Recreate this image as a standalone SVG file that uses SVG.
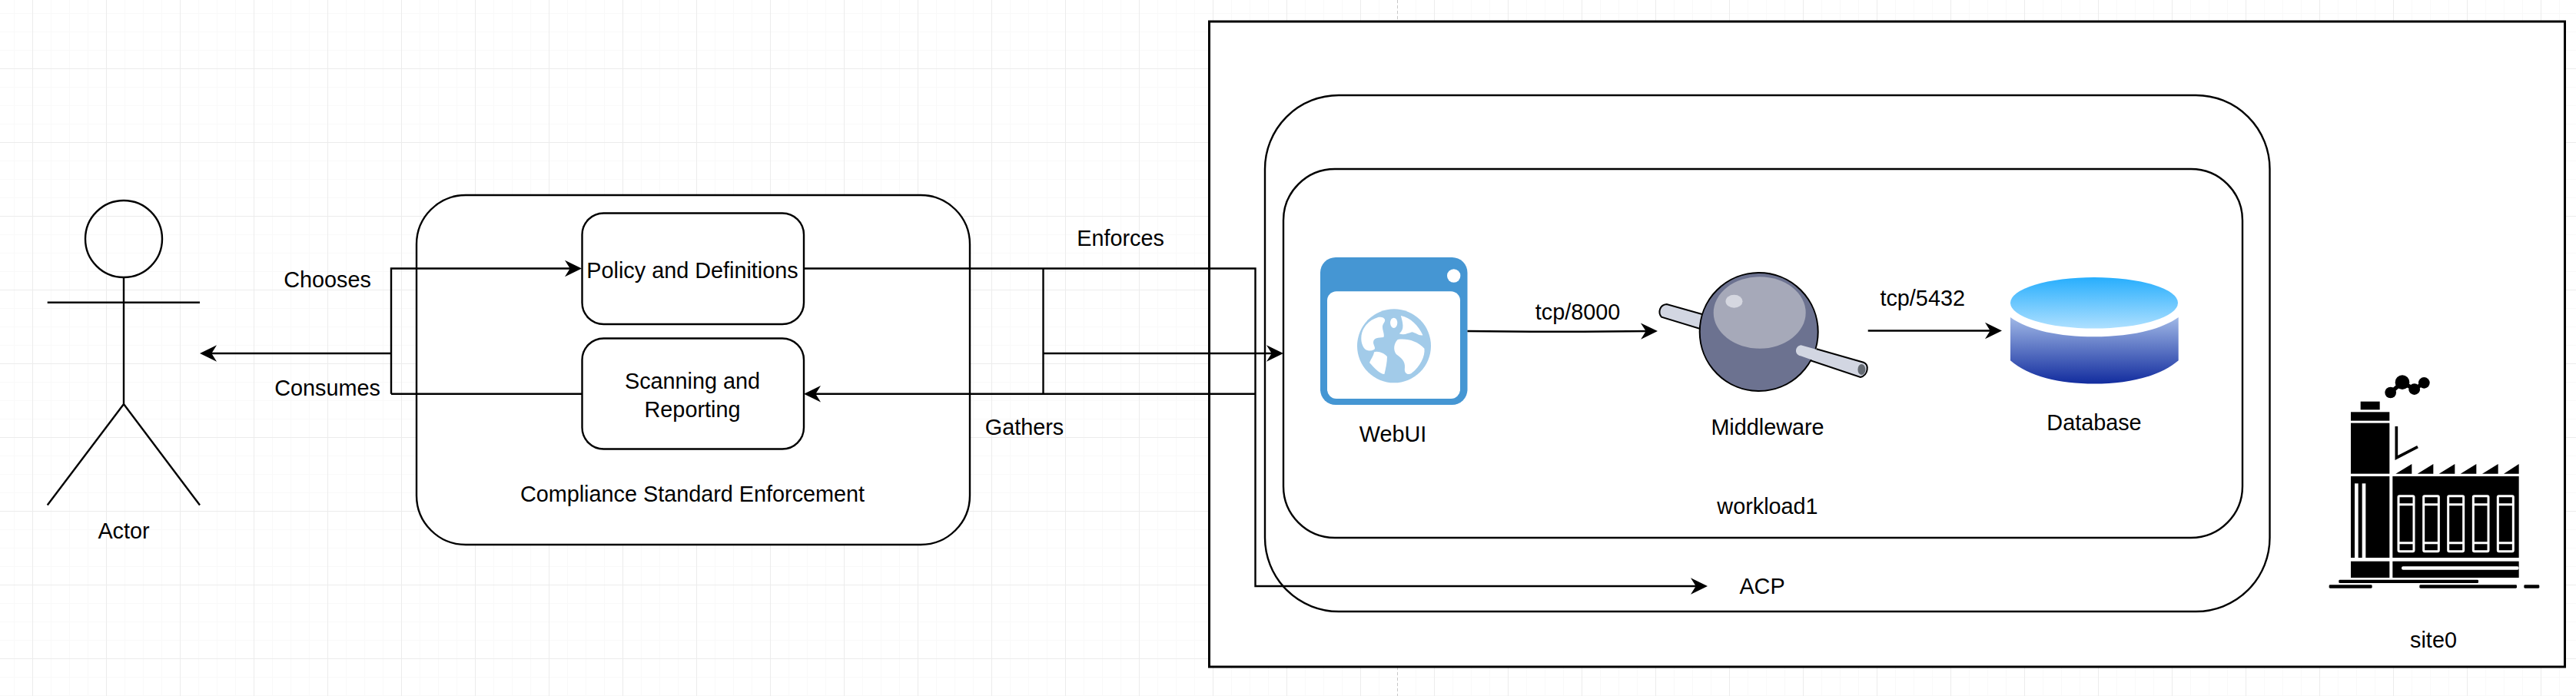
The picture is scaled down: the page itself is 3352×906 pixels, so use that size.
<svg xmlns="http://www.w3.org/2000/svg" width="3352" height="906" viewBox="0 0 3352 906">
<style>
text{font-family:"Liberation Sans",Arial,sans-serif;font-size:28.8px;fill:#000;text-anchor:middle}
.s{fill:none;stroke:#000;stroke-width:2.4}
.b{fill:#fff;stroke:#000;stroke-width:2.4}
.c{fill:none;stroke:#000;stroke-width:2.4;stroke-linejoin:miter}
.a{marker-end:url(#arrow)}
.w{fill:#fff}
.fw{fill:none;stroke:#fff;stroke-width:9}
</style>
<defs>
<pattern id="grid" patternUnits="userSpaceOnUse" x="42" y="89" width="96" height="96">
<path d="M24.5 0V96M48.5 0V96M72.5 0V96M0 24.5H96M0 48.5H96M0 72.5H96" stroke="#f9f9f9" stroke-width="1" fill="none"/>
<path d="M.5 0V96M0 .5H96" stroke="#ececec" stroke-width="1" fill="none"/>
</pattern>
<marker id="arrow" markerUnits="userSpaceOnUse" markerWidth="24" markerHeight="24" viewBox="-1 -12 24 24" refX="14" refY="0" orient="auto">
<path d="M0,-10.7L22,0L0,10.7L6.7,0Z" fill="#000"/>
</marker>
<linearGradient id="dbTop" x1="0" y1="0" x2="0" y2="1"><stop offset="0" stop-color="#27AEFD"/><stop offset="1" stop-color="#AEE0FF"/></linearGradient>
<linearGradient id="dbBody" x1="0" y1="0" x2="0" y2="1"><stop offset="0" stop-color="#A0B8E6"/><stop offset="1" stop-color="#122C9E"/></linearGradient>
</defs>
<rect id="background" width="3352" height="906" fill="#fff"/>
<rect id="gridlines" width="3352" height="906" fill="url(#grid)"/>
<path id="page-break" d="M1818.5 0V906" stroke="#c8c8c8" stroke-width="1" stroke-dasharray="4 3" fill="none"/>

<g id="site0">
<rect class="b" x="1573.5" y="28" width="1764" height="840" style="stroke-width:3"/>
<g transform="translate(2980,460) scale(.33333)">
<circle cx="392" cy="153" r="22"/><circle cx="438" cy="113" r="28"/><circle cx="485" cy="140" r="22"/><circle cx="523" cy="115" r="22"/>
<path d="M392 153L438 113L485 140L523 115" fill="none" stroke="#000" stroke-width="16"/>
<rect x="275" y="188" width="75" height="32"/>
<rect x="237" y="229" width="151" height="34"/>
<rect x="237" y="272" width="151" height="198"/>
<rect x="237" y="480" width="151" height="318"/>
<rect x="237" y="812" width="151" height="64"/>
<rect class="w" x="252" y="508" width="14" height="297"/>
<rect class="w" x="281" y="508" width="14" height="297"/>
<rect x="400" y="480" width="493" height="318"/>
<rect x="400" y="812" width="493" height="64"/>
<rect class="w" x="435" y="832" width="458" height="13" rx="6"/>
<path d="M415 285V408L498 365" fill="none" stroke="#000" stroke-width="11"/>
<path d="M412 470L475 432V470ZM497 470L559 432V470ZM581 470L643 432V470ZM665 470L727 432V470ZM750 470L812 432V470ZM834 470L893 432V470Z"/>
<g class="fw">
<rect x="423" y="557" width="60" height="216" rx="4"/><path d="M423 590H483M423 740H483"/>
<rect x="521" y="557" width="59" height="216" rx="4"/><path d="M521 590H580M521 740H580"/>
<rect x="617" y="557" width="60" height="216" rx="4"/><path d="M617 590H677M617 740H677"/>
<rect x="715" y="557" width="59" height="216" rx="4"/><path d="M715 590H774M715 740H774"/>
<rect x="811" y="557" width="60" height="216" rx="4"/><path d="M811 590H871M811 740H871"/>
</g>
<rect x="190" y="884" width="545" height="13" rx="4"/>
<rect x="152" y="904" width="168" height="13" rx="4"/>
<rect x="505" y="904" width="380" height="13" rx="4"/>
<rect x="913" y="904" width="60" height="13" rx="4"/>
</g>
<text x="3166.5" y="842.5">site0</text>
</g>

<g id="ACP">
<rect class="b" x="1646" y="124" width="1307.500" height="672" rx="96" ry="96"/>
<text x="2293" y="773">ACP</text>
</g>

<g id="workload1">
<rect class="b" x="1670" y="220" width="1248" height="480" rx="67" ry="67"/>
<text x="2300" y="669">workload1</text>
</g>

<g id="WebUI">
<rect x="1718" y="335" width="191.500" height="192" rx="20" fill="#4596D3"/>
<rect class="w" x="1727" y="379.300" width="173" height="139.700" rx="12"/>
<circle class="w" cx="1891.700" cy="359" r="8.700"/>
<ellipse cx="1814" cy="450.300" rx="48" ry="48" fill="#A2CBE9"/>
<g class="w" transform="translate(1680,300.300) scale(.5102,.33333)">
<path d="M222 338C235 336 245 345 236 362C228 380 240 400 236 416C222 418 208 418 210 440C212 452 216 458 212 464C204 470 196 470 190 464C176 445 176 405 186 380C194 360 206 345 222 338Z"/>
<path d="M212 474C222 468 240 480 245 492C245 515 241 540 238 560C226 560 212 535 200 515C204 500 210 490 212 474Z"/>
<ellipse cx="262" cy="360" rx="9" ry="20"/>
<path d="M280 332C305 340 325 370 336 408C326 412 318 398 308 396C298 400 288 410 276 402C290 385 285 360 280 332Z"/>
<path d="M272 425C295 420 322 430 340 460C342 490 330 530 306 558C296 564 288 555 290 535C292 510 280 495 268 482C260 465 262 440 272 425Z"/>
</g>
<text x="1812.500" y="575">WebUI</text>
</g>

<g id="Middleware">
<path d="M2215.700 409.300L2168.800 396C2159.600 396.700 2157 406.700 2162 412.700L2213 428.300Z" fill="#D2D6E2" stroke="#000" stroke-width="2"/>
<ellipse cx="2288.700" cy="432" rx="77" ry="77" fill="#6C7290" stroke="#000" stroke-width="2"/>
<ellipse cx="2289.700" cy="407" rx="60" ry="46.700" fill="#A6A9B9"/>
<ellipse cx="2256.500" cy="392.300" rx="11" ry="8.500" fill="#D5D7E0"/>
<path d="M2343.300 449.300L2424.900 471.700C2432.600 475 2431 488.300 2420.800 491L2343 463.300C2335 462 2335 451 2343.300 449.300Z" fill="#D2D6E2"/>
<path d="M2363.700 454.300L2424.900 471.700C2432.600 475 2431 488.300 2420.800 491L2356 469.300" fill="none" stroke="#000" stroke-width="2"/>
<ellipse cx="2422.400" cy="481" rx="5" ry="7" fill="#656B73"/>
<text x="2300" y="566">Middleware</text>
</g>

<g id="Database">
<ellipse cx="2725" cy="394.300" rx="109" ry="33.300" fill="url(#dbTop)"/>
<path d="M2616 413C2640 430.300 2680 438.300 2725 438.300C2770 438.300 2810 430.300 2834.700 413V469.300C2810 490.300 2770 499.600 2725 499.600C2680 499.600 2640 490.300 2616 469.300Z" fill="url(#dbBody)"/>
<text x="2725" y="560">Database</text>
</g>

<g id="ComplianceStandardEnforcement">
<rect class="b" x="542" y="254" width="720" height="455" rx="64" ry="64"/>
<text x="901" y="652.500">Compliance Standard Enforcement</text>
</g>
<g id="PolicyAndDefinitions">
<rect class="b" x="757.500" y="277.500" width="288.500" height="144.500" rx="28" ry="28"/>
<text x="901" y="362">Policy and Definitions</text>
</g>
<g id="ScanningAndReporting">
<rect class="b" x="757.500" y="440.500" width="288.500" height="144" rx="28" ry="28"/>
<text x="901" y="506">Scanning and</text>
<text x="901" y="542.500">Reporting</text>
</g>

<g id="Actor">
<circle class="s" cx="161" cy="311" r="50"/>
<path class="s" d="M161 361V526M61.700 393.700H260M61.700 657.500L161 526L260 657.500"/>
<text x="161" y="701">Actor</text>
</g>

<g id="connectors">
<path class="c a" d="M509 460H268"/>
<path class="c a" d="M509 512.800V349.500H749"/>
<path class="c" d="M757.500 512.800H509"/>
<path class="c a" d="M1046 349.500H1633.500V763H2214"/>
<path class="c" d="M1357.500 349.500V512.800"/>
<path class="c a" d="M1357.500 460H1662"/>
<path class="c a" d="M1633.500 512.800H1054"/>
<path class="c a" d="M1909.500 431C1980 432 2060 432 2149 431"/>
<path class="c a" d="M2430.700 430.500H2597"/>
</g>

<g id="labels">
<text x="426" y="374">Chooses</text>
<text x="426" y="515">Consumes</text>
<text x="1458" y="320">Enforces</text>
<text x="1333" y="566">Gathers</text>
<text x="2053" y="415.500">tcp/8000</text>
<text x="2501.700" y="397.500">tcp/5432</text>
</g>
</svg>
